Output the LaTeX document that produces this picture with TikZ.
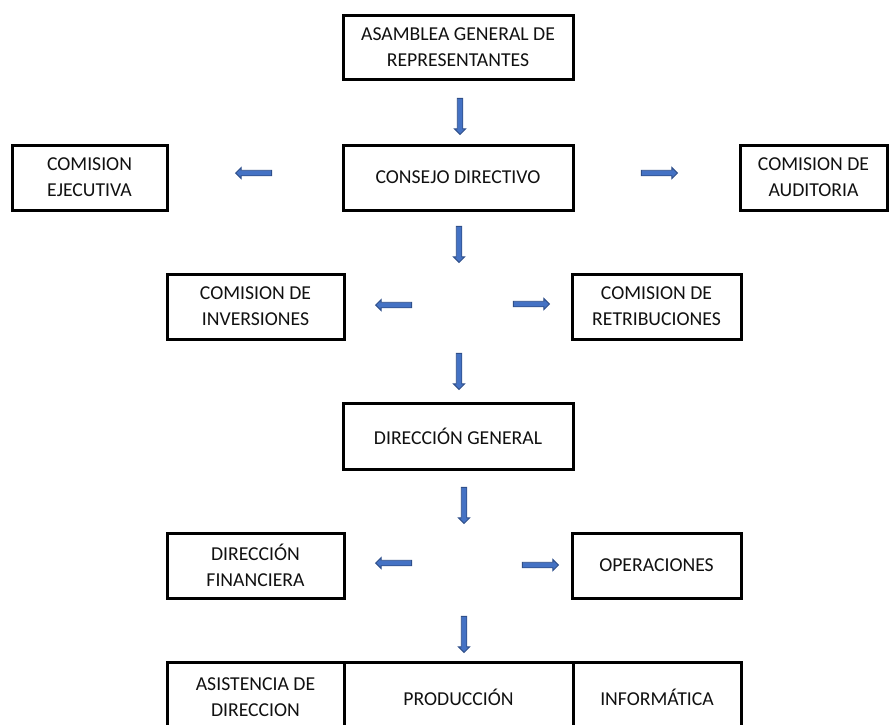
\documentclass[tikz,border=0pt]{standalone}
\usepackage{fontspec}
\setmainfont{Carlito}
\usetikzlibrary{shapes.arrows}
\definecolor{arrfill}{HTML}{4472C4}
\definecolor{arrline}{HTML}{2F4F8A}
\definecolor{txt}{HTML}{111111}
\begin{document}
\begin{tikzpicture}[x=1pt,y=1pt,
  box/.style={draw=black,line width=3pt,fill=white,align=center,inner sep=0pt,
    text=txt,font=\fontsize{19.7}{26}\selectfont},
  barrow/.style={single arrow,draw=arrline,fill=arrfill,line width=0.9pt,
    minimum height=36pt,inner sep=2.3pt,single arrow head extend=2.8pt,
    single arrow tip angle=90}]
\useasboundingbox (0,0) rectangle (890,-724);
\clip (0,0) rectangle (890,-724);
% boxes
\node[box,minimum width=230pt,minimum height=64pt] (asamblea) at (458,-47) {ASAMBLEA GENERAL DE\\REPRESENTANTES};
\node[box,minimum width=230pt,minimum height=65pt] (consejo) at (458,-177.5) {CONSEJO DIRECTIVO};
\node[box,minimum width=155pt,minimum height=65pt] (ejecutiva) at (89.5,-177.5) {COMISION\\EJECUTIVA};
\node[box,minimum width=147pt,minimum height=65pt] (auditoria) at (813.5,-177.5) {COMISION DE\\AUDITORIA};
\node[box,minimum width=177pt,minimum height=65pt] (inversiones) at (255.5,-306.5) {COMISION DE\\INVERSIONES};
\node[box,minimum width=169pt,minimum height=65pt] (retribuciones) at (656.5,-306.5) {COMISION DE\\RETRIBUCIONES};
\node[box,minimum width=230pt,minimum height=66pt] (dirgeneral) at (458,-436) {DIRECCIÓN GENERAL};
\node[box,minimum width=177pt,minimum height=65pt] (financiera) at (255.5,-565.5) {DIRECCIÓN\\FINANCIERA};
\node[box,minimum width=169pt,minimum height=65pt] (operaciones) at (656.5,-565.5) {OPERACIONES};
\node[box,minimum width=177pt,minimum height=70pt] (asistencia) at (255.5,-697) {ASISTENCIA DE\\DIRECCION};
\node[box,minimum width=229pt,minimum height=70pt] (produccion) at (458.5,-697) {PRODUCCIÓN};
\node[box,minimum width=168pt,minimum height=70pt] (informatica) at (657,-697) {INFORMÁTICA};
% block arrows
\node[barrow,rotate=-90] (a1) at (460,-115) {};
\node[barrow,rotate=180] (a2) at (255,-173) {};
\node[barrow] (a3) at (658,-173) {};
\node[barrow,rotate=-90] (a4) at (459,-243) {};
\node[barrow,rotate=180] (a5) at (395,-305) {};
\node[barrow] (a6) at (530,-304) {};
\node[barrow,rotate=-90] (a7) at (459,-370) {};
\node[barrow,rotate=-90] (a8) at (464,-504) {};
\node[barrow,rotate=180] (a9) at (395,-563) {};
\node[barrow] (a10) at (539,-565) {};
\node[barrow,rotate=-90] (a11) at (464,-633) {};
\end{tikzpicture}
\end{document}
